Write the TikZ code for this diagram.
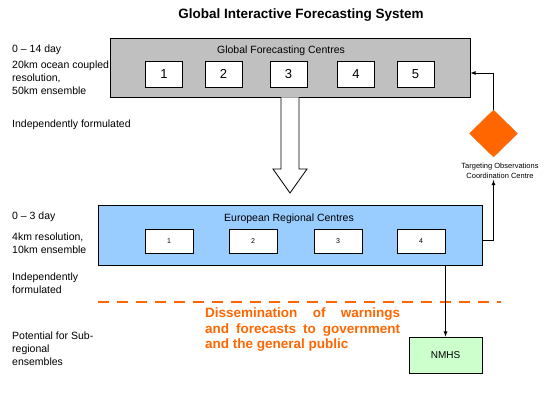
\documentclass[tikz,border=0pt]{standalone}
\usepackage{fontspec}
\setmainfont{Liberation Sans}
\usepackage{xcolor}
\usepackage{tikz}
\usetikzlibrary{shapes,arrows,positioning}
\usetikzlibrary{shapes.geometric}
\definecolor{panelgrey}{HTML}{C0C0C0}
\definecolor{panelblue}{HTML}{99CCFF}
\definecolor{nmhsgreen}{HTML}{CCFFCC}
\definecolor{warnorange}{HTML}{FF6600}
\tikzset{
	note/.style={anchor=north west,inner sep=0pt,align=left,font=\fontsize{10.5}{13}\selectfont},
	panel/.style={draw,line width=0.8pt,inner sep=0pt},
	gcbox/.style={draw,fill=white,line width=0.8pt,minimum width=37pt,minimum height=26pt,inner sep=0pt,font=\fontsize{13}{13}\selectfont},
	rcbox/.style={draw,fill=white,line width=0.8pt,minimum width=48pt,minimum height=24pt,inner sep=0pt,font=\fontsize{7}{7}\selectfont},
	link/.style={-latex,line width=0.8pt}
}
\newcommand{\spreadline}[1]{\makebox[195pt][s]{#1}}
\begin{document}
\begin{tikzpicture}[x=1pt,y=-1pt]
		\useasboundingbox (0,0) rectangle (556,400);
		\node (title) at (301,15) {\fontsize{13.5}{13.5}\selectfont\bfseries Global Interactive Forecasting System};
		% notes on the left
		\node[note] (range1) at (12,45) {0 -- 14 day};
		\node[note] (res1) at (12,61) {20km ocean coupled\\resolution,\\50km ensemble};
		\node[note] (form1) at (12,120) {Independently formulated};
		\node[note] (range2) at (12,212) {0 -- 3 day};
		\node[note] (res2) at (12,233) {4km resolution,\\10km ensemble};
		\node[note] (form2) at (12,273) {Independently\\formulated};
		\node[note] (sub) at (12,332) {Potential for Sub-\\regional\\ensembles};
		% global centres
		\node[panel,fill=panelgrey,minimum width=360pt,minimum height=59pt] (gfc) at (290,67.5) {};
		\node[font=\fontsize{10.5}{10.5}\selectfont] (gfclabel) at (281,51) {Global Forecasting Centres};
		\node[gcbox] (g1) at (164,74) {1};
		\node[gcbox] (g2) at (223.5,74) {2};
		\node[gcbox] (g3) at (288.5,74) {3};
		\node[gcbox] (g4) at (356,74) {4};
		\node[gcbox] (g5) at (415.5,74) {5};
		% hollow arrow down
		\draw[line width=0.8pt,fill=white] (281,97.4) -- (281,169) -- (273,169) -- (290,193) -- (307,169) -- (299,169) -- (299,97.4);
		% european centres
		\node[panel,fill=panelblue,minimum width=384pt,minimum height=60pt] (erc) at (290,235) {};
		\node[font=\fontsize{10.5}{10.5}\selectfont] (erclabel) at (289,219) {European Regional Centres};
		\node[rcbox] (r1) at (169,241) {1};
		\node[rcbox] (r2) at (253,241) {2};
		\node[rcbox] (r3) at (338,241) {3};
		\node[rcbox] (r4) at (421,241) {4};
		% targeting centre
		\node[diamond,draw=warnorange,fill=warnorange,inner sep=0pt,minimum width=48pt,minimum height=47pt] (toc) at (493.5,133.5) {};
		\node[anchor=north,align=center,inner sep=0pt,font=\fontsize{7.5}{10}\selectfont] (toclabel) at (500,163) {Targeting Observations\\Coordination Centre};
		\draw[link] (toc.north) |- ([yshift=-5.5pt]gfc.east);
		\draw[link] ([yshift=-5pt]erc.east) -| ([yshift=-1pt]toc.south |- toclabel.south);
		% dissemination
		\draw[warnorange,line width=2.5pt,dash pattern=on 11pt off 8pt] (98,302) -- (501,302);
		\node[anchor=north west,inner sep=0pt,align=left,text=warnorange,font=\fontsize{13.5}{15.5}\selectfont\bfseries] (warn) at (205,308) {\spreadline{Dissemination of warnings}\\\spreadline{and forecasts to government}\\and the general public};
		\node[draw,fill=nmhsgreen,line width=0.8pt,minimum width=73pt,minimum height=36pt,inner sep=0pt,font=\fontsize{10}{10}\selectfont] (nmhs) at (445.5,355) {NMHS};
		\draw[link] (nmhs.north |- erc.south) -- (nmhs.north);
	\end{tikzpicture}
\end{document}
